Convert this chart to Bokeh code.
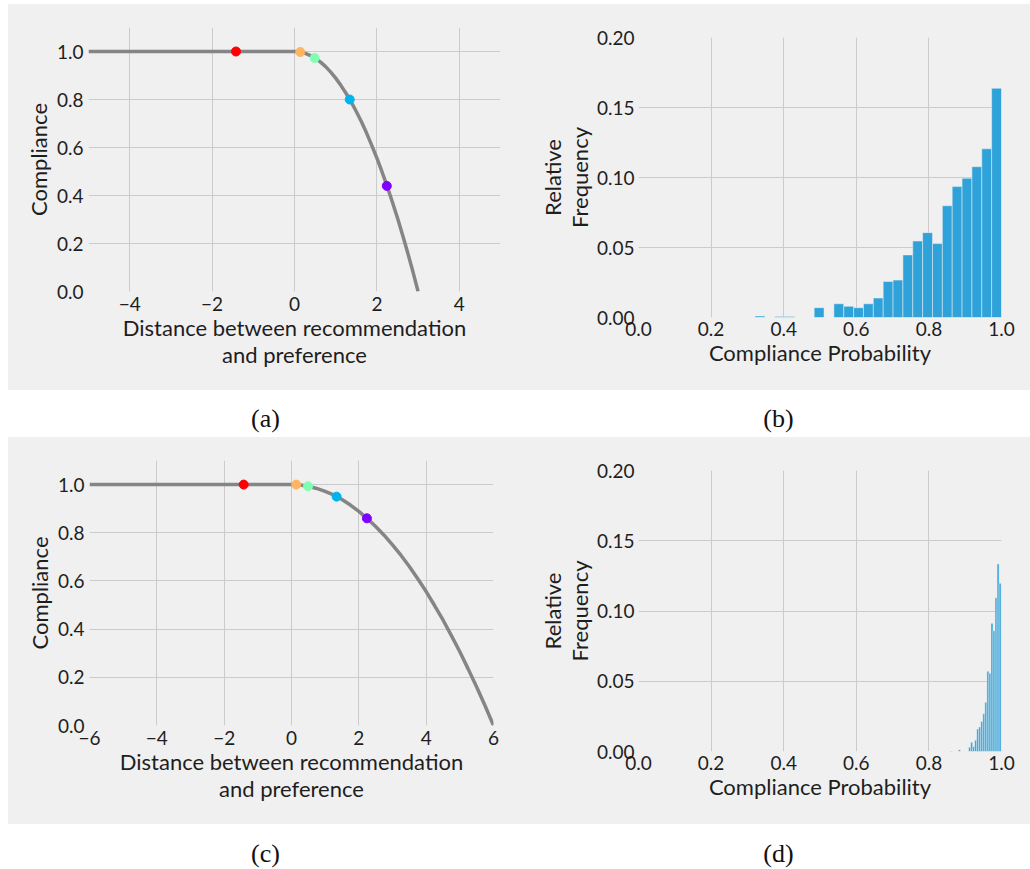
from bokeh.plotting import figure
from bokeh.layouts import column, row
from bokeh.models import Range1d, FixedTicker, Label, NumeralTickFormatter
from bokeh.embed import file_html
from bokeh.resources import INLINE
import numpy as np

FONT = "Lato"
SERIF = "Liberation Serif"
BG = "#f0f0f0"
GRID = "#cbcbcb"
TXT = "#1e1e1e"
LINE = "#858585"
BAR = "#30a2da"

# ---------------- data ----------------
# (a) compliance curve, flat then falling to 0 at distance 3
a_dist = [-5.0, 0.0, 0.125, 0.25, 0.375, 0.5, 0.625, 0.75, 0.875, 1.0, 1.125, 1.25, 1.375,
          1.5, 1.625, 1.75, 1.875, 2.0, 2.125, 2.25, 2.375, 2.5, 2.625, 2.75, 2.875, 3.0]
a_comp = [1.0, 1.0, 0.998, 0.993, 0.984, 0.972, 0.957, 0.938, 0.915, 0.889, 0.859, 0.826, 0.790,
          0.750, 0.707, 0.660, 0.609, 0.556, 0.498, 0.438, 0.373, 0.306, 0.234, 0.160, 0.082, 0.0]
# (c) compliance curve, flat then falling to 0 at distance 6
c_dist = [-6.0, 0.0, 0.25, 0.5, 0.75, 1.0, 1.25, 1.5, 1.75, 2.0, 2.25, 2.5, 2.75,
          3.0, 3.25, 3.5, 3.75, 4.0, 4.25, 4.5, 4.75, 5.0, 5.25, 5.5, 5.75, 6.0]
c_comp = [1.0, 1.0, 0.998, 0.993, 0.984, 0.972, 0.957, 0.938, 0.915, 0.889, 0.859, 0.826, 0.790,
          0.750, 0.707, 0.660, 0.609, 0.556, 0.498, 0.438, 0.373, 0.306, 0.234, 0.160, 0.082, 0.0]
# highlighted points
pt_dist = [-1.42, 0.14, 0.49, 1.34, 2.24]
a_pt_comp = [1.0, 0.998, 0.973, 0.80, 0.44]
c_pt_comp = [1.0, 1.0, 0.993, 0.95, 0.86]
pt_colors = ["#ff0000", "#ffb462", "#80ffb4", "#00b4eb", "#8000ff"]

# (b) histogram of compliance probability (25 bins)
b_min, b_max = 0.321, 1.0
b_freq = [0.001, 0.0, 0.0008, 0.0008, 0.0, 0.0, 0.007, 0.0, 0.0098, 0.008,
          0.007, 0.0098, 0.0139, 0.0257, 0.0267, 0.0447, 0.0546, 0.0606, 0.0528, 0.0798,
          0.0935, 0.0994, 0.1077, 0.1205, 0.1637]
# (d) histogram of compliance probability (25 bins)
d_min, d_max = 0.859, 0.999
d_freq = [0.0004, 0.0, 0.0, 0.0, 0.0012, 0.0, 0.0, 0.0, 0.0, 0.003,
          0.0065, 0.0035, 0.008, 0.016, 0.0175, 0.0213, 0.0268, 0.035, 0.0571, 0.0557,
          0.0912, 0.086, 0.1095, 0.1335, 0.1197]

dist_ticks_a = [-4, -2, 0, 2, 4]
dist_ticks_c = [-6, -4, -2, 0, 2, 4, 6]
comp_ticks = [0.0, 0.2, 0.4, 0.6, 0.8, 1.0]
prob_ticks = [0.0, 0.2, 0.4, 0.6, 0.8, 1.0]
freq_ticks = [0.0, 0.05, 0.10, 0.15, 0.20]


def minus(v):
    return ("\u2212" + str(abs(v))) if v < 0 else str(v)


def base_fig(w, h, xr, yr, lb, rb, tb, bb):
    p = figure(width=w, height=h, x_range=Range1d(*xr), y_range=Range1d(*yr),
               toolbar_location=None, output_backend="svg",
               min_border_left=lb, min_border_right=rb,
               min_border_top=tb, min_border_bottom=bb)
    p.frame_align = False
    p.background_fill_color = BG
    p.border_fill_color = BG
    p.outline_line_color = None
    for ax in (p.xaxis[0], p.yaxis[0]):
        ax.axis_line_color = None
        ax.major_tick_line_color = None
        ax.minor_tick_line_color = None
        ax.major_tick_out = 0
        ax.major_tick_in = 0
        ax.minor_tick_out = 0
        ax.minor_tick_in = 0
        ax.major_label_text_font = FONT
        ax.major_label_text_font_size = "19px"
        ax.major_label_text_color = TXT
        ax.axis_label_text_font = FONT
        ax.axis_label_text_font_size = "22px"
        ax.axis_label_text_font_style = "normal"
        ax.axis_label_text_color = TXT
        ax.axis_label_text_line_height = 1.0
    p.xaxis.major_label_standoff = 5
    p.yaxis.major_label_standoff = 5
    p.grid.grid_line_color = GRID
    p.grid.grid_line_width = 1
    return p


def curve_panel(w, h, xr, dist, comp, pcomp, ticks, gticks, lb, rb, tb, bb):
    p = base_fig(w, h, xr, (0, 1.1), lb, rb, tb, bb)
    p.line(dist, comp, line_color=LINE, line_width=3.5)
    p.scatter(pt_dist, pcomp, size=9, fill_color=pt_colors, line_color=pt_colors)
    p.xaxis.ticker = FixedTicker(ticks=ticks)
    p.xaxis.major_label_overrides = {t: minus(t) for t in ticks}
    p.yaxis.ticker = FixedTicker(ticks=comp_ticks)
    p.yaxis.formatter = NumeralTickFormatter(format="0.0")
    p.xgrid.ticker = FixedTicker(ticks=gticks)
    p.ygrid.ticker = FixedTicker(ticks=[0.2, 0.4, 0.6, 0.8, 1.0])
    p.xaxis.axis_label = "Distance between recommendation\nand preference"
    p.yaxis.axis_label = "Compliance"
    p.xaxis.axis_label_standoff = 0
    p.yaxis.axis_label_standoff = 2
    return p


def hist_panel(w, h, lo, hi, freq, lb, rb, tb, bb):
    p = base_fig(w, h, (0, 1.0), (0, 0.2), lb, rb, tb, bb)
    edges = np.linspace(lo, hi, len(freq) + 1)
    p.quad(left=edges[:-1], right=edges[1:], bottom=0, top=freq,
           fill_color=BAR, line_color=BG, line_width=0.5)
    p.xaxis.ticker = FixedTicker(ticks=prob_ticks)
    p.xaxis.formatter = NumeralTickFormatter(format="0.0")
    p.yaxis.ticker = FixedTicker(ticks=freq_ticks)
    p.yaxis.formatter = NumeralTickFormatter(format="0.00")
    p.xgrid.ticker = FixedTicker(ticks=[0.2, 0.4, 0.6, 0.8, 1.0])
    p.ygrid.ticker = FixedTicker(ticks=[0.05, 0.10, 0.15])
    p.xaxis.axis_label = "Compliance Probability"
    p.yaxis.axis_label = "Relative\nFrequency"
    p.xaxis.axis_label_standoff = 0
    p.yaxis.axis_label_standoff = 1
    p.xaxis.major_label_standoff = 4
    p.yaxis.major_label_standoff = 4
    return p


def caption_fig(h, labels, ymid):
    p = figure(width=1030, height=h, x_range=Range1d(0, 1030), y_range=Range1d(0, h),
               toolbar_location=None, output_backend="svg", min_border=0,
               x_axis_location=None, y_axis_location=None)
    p.grid.visible = False
    p.outline_line_color = None
    p.background_fill_color = "white"
    p.border_fill_color = "white"
    for x, t in labels:
        p.add_layout(Label(x=x, y=ymid, text=t, text_align="center", text_baseline="middle",
                           text_font=SERIF, text_font_size="26px", text_color="#111111"))
    return p


fa = curve_panel(507, 386, (-5, 5), a_dist, a_comp, a_pt_comp, dist_ticks_a, dist_ticks_a,
                 80, 15, 23, 99)
fb = hist_panel(515, 386, b_min, b_max, b_freq, 123, 29, 33, 73)
fc = curve_panel(507, 387, (-6, 6), c_dist, c_comp, c_pt_comp, dist_ticks_c, [-4, -2, 0, 2, 4],
                 81, 22, 23, 99)
fd = hist_panel(515, 387, d_min, d_max, d_freq, 123, 29, 33, 73)

row1 = row(fa, fb, margin=(4, 0, 0, 8), styles={"background-color": BG})
row2 = row(fc, fd, margin=(0, 0, 0, 8), styles={"background-color": BG})

cap1 = caption_fig(47, [(265, "(a)"), (778, "(b)")], 19)
cap2 = caption_fig(45, [(265, "(c)"), (778, "(d)")], 16)

layout = column(row1, cap1, row2, cap2)

open("out.html", "w").write(file_html(layout, INLINE))
